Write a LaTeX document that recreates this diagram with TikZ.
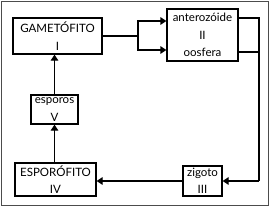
\documentclass[tikz,border=0pt]{standalone}
\usepackage{fontspec}
\setmainfont{Lato}
\usetikzlibrary{arrows.meta,positioning}

\begin{document}
\begin{tikzpicture}[x=1pt,y=-1pt,font=\fontsize{11.5}{17.5}\selectfont,box/.style={draw,line width=1.2pt,align=center,inner sep=0pt},arr/.style={-{Triangle[length=6pt,width=7.5pt]},line width=1.2pt}]
\useasboundingbox (0,0) rectangle (271,207);
\draw[black!70,line width=0.6pt] (1,1) rectangle (268.5,205);
\node[box,minimum width=89pt,minimum height=36pt] (gam) at (57.5,36) {GAMETÓFITO\\I};
\node[box,minimum width=71pt,minimum height=52pt] (ant) at (202.5,35) {anterozóide\\II\\oosfera};
\node[box,minimum width=47pt,minimum height=29pt] (esp) at (54.5,109.5) {esporos\\V};
\node[box,minimum width=81pt,minimum height=33pt] (spo) at (55.5,179.5) {ESPORÓFITO\\IV};
\node[box,minimum width=39pt,minimum height=30pt] (zig) at (202.5,181) {zigoto\\III};
% gametas
\coordinate (br) at (138,36);
\draw[line width=1.2pt] (gam.east) -- (br);
\draw[arr] (br) |- ([yshift=14pt]ant.west);
\draw[arr] (br) |- ([yshift=-15pt]ant.west);
% fecundacao
\coordinate (rt) at (259,181);
\draw[line width=1.2pt] ([yshift=17pt]ant.east) -| (rt);
\draw[line width=1.2pt] ([yshift=-17pt]ant.east) -| (rt);
\draw[arr] (rt) -- (zig.east);
\draw[arr] (zig.west) -- (spo.east |- zig.west);
\draw[arr] (spo.north -| esp.south) -- (esp.south);
\draw[arr] (esp.north) -- (esp.north |- gam.south);
\end{tikzpicture}
\end{document}
